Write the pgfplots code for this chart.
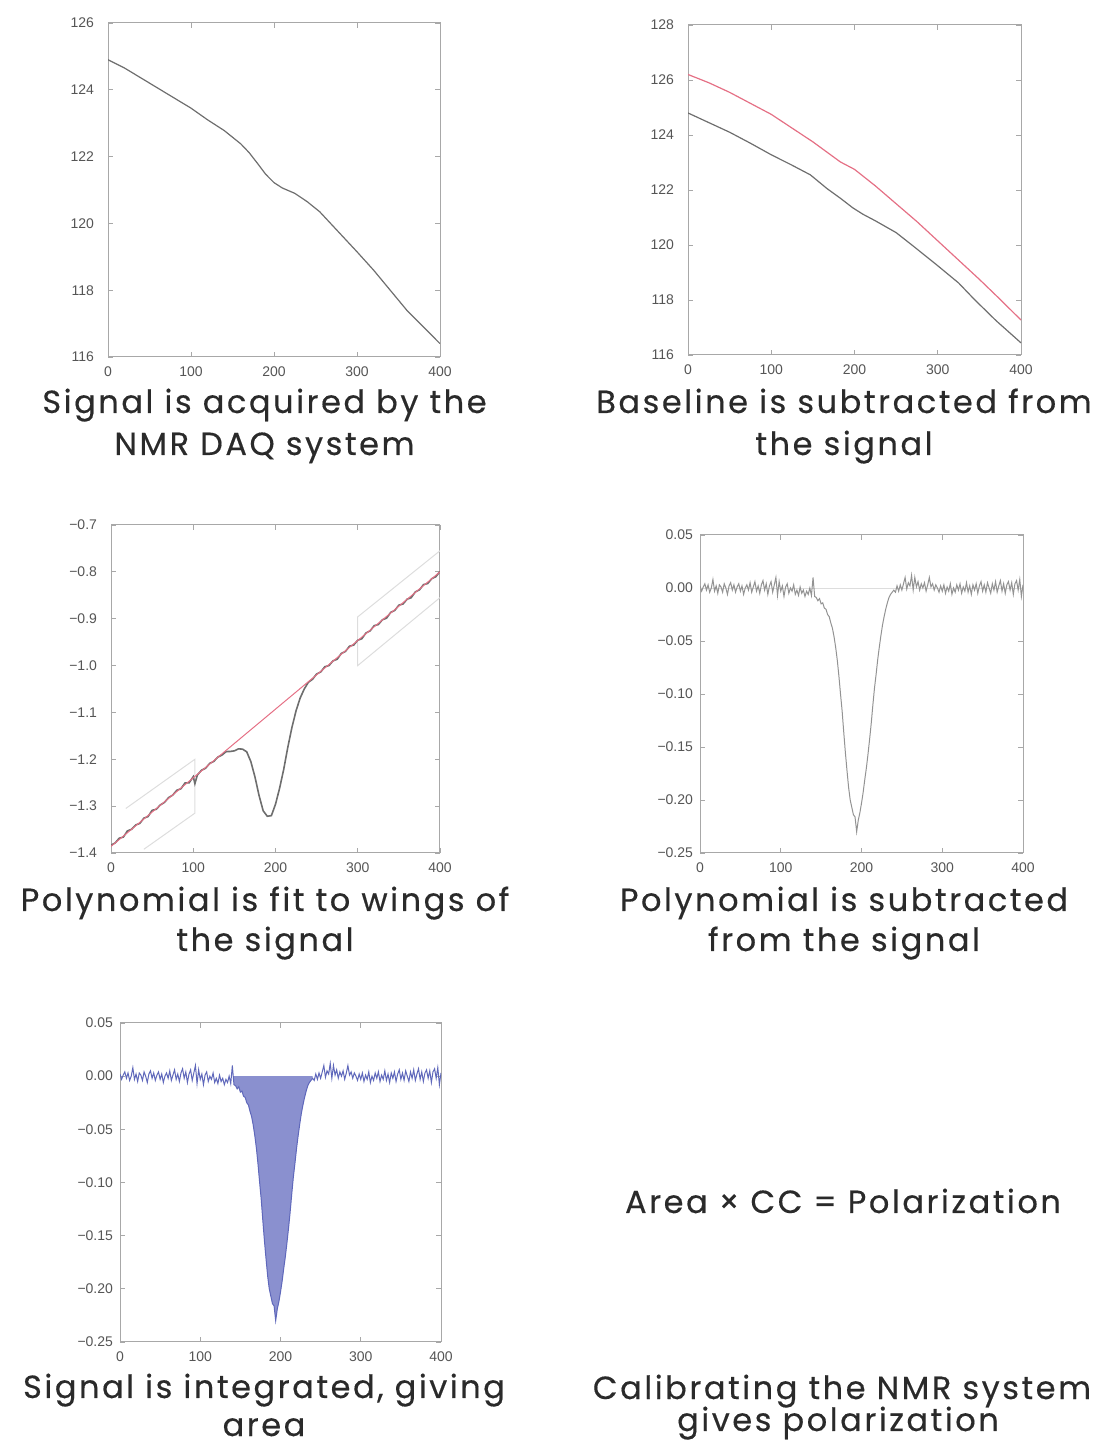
\documentclass[border=0pt]{standalone}
\usepackage{fontspec}
\setmainfont{Liberation Sans}
\newfontfamily\capfont{Poppins}[LetterSpace=8, FakeBold=0.4]
\usepackage{pgfplots}
\pgfplotsset{compat=1.18}
\usepackage{pgfplotstable}

\definecolor{axgray}{HTML}{A8A8A8}
\definecolor{lblgray}{HTML}{555555}
\definecolor{linegray}{HTML}{6E6E6E}
\definecolor{redline}{HTML}{E57085}
\definecolor{bandgray}{HTML}{DDDDDD}
\definecolor{p4gray}{HTML}{939393}
\definecolor{blueline}{HTML}{5F68BB}
\definecolor{fillblue}{HTML}{8A90CF}
\definecolor{captext}{HTML}{2A2A2A}

% Panel 1: raw signal
\pgfplotstableread{
x y
0 124.90
20 124.65
40 124.35
60 124.05
80 123.75
100 123.45
120 123.10
140 122.78
160 122.38
170 122.12
180 121.80
190 121.47
200 121.22
210 121.06
225 120.90
240 120.65
255 120.35
270 119.95
285 119.55
300 119.15
320 118.60
340 118.00
360 117.40
380 116.90
400 116.40
}\rawtab

% Panel 2: signal (black) and baseline (red)
\pgfplotstableread{
x y
0 124.80
25 124.45
50 124.10
75 123.70
100 123.28
125 122.90
147 122.55
167 122.05
183 121.70
198 121.35
210 121.12
225 120.88
250 120.45
271 119.95
299 119.27
325 118.62
344 118.02
370 117.25
400 116.44
}\sigtwo
\pgfplotstableread{
x y
0 126.20
25 125.90
50 125.55
75 125.15
100 124.75
125 124.25
150 123.75
183 123.02
200 122.75
225 122.15
250 121.50
275 120.85
300 120.15
325 119.45
350 118.75
375 118.02
400 117.27
}\basetwo

% Panel 3: baseline-subtracted signal
\pgfplotstableread{
x y
0 -1.3830
5 -1.3787
10 -1.3684
15 -1.3661
20 -1.3528
25 -1.3495
30 -1.3402
35 -1.3369
40 -1.3256
45 -1.3223
50 -1.3090
55 -1.3067
60 -1.2974
65 -1.2921
70 -1.2818
75 -1.2765
80 -1.2662
85 -1.2629
90 -1.2506
95 -1.2503
100 -1.2370
102 -1.2520
105 -1.2337
110 -1.2234
115 -1.2191
120 -1.2088
125 -1.2045
130 -1.1952
135 -1.1909
140 -1.1836
145 -1.1833
150 -1.1820
155 -1.1777
160 -1.1784
165 -1.1841
170 -1.2048
175 -1.2375
180 -1.2772
185 -1.3099
190 -1.3216
195 -1.3203
200 -1.2960
205 -1.2617
210 -1.2214
215 -1.1741
220 -1.1318
225 -1.0965
230 -1.0692
235 -1.0499
240 -1.0356
245 -1.0293
250 -1.0180
255 -1.0137
260 -1.0024
265 -1.0001
270 -0.9898
275 -0.9865
280 -0.9742
285 -0.9699
290 -0.9586
295 -0.9563
300 -0.9460
305 -0.9427
310 -0.9304
315 -0.9261
320 -0.9148
325 -0.9125
330 -0.9022
335 -0.8989
340 -0.8866
345 -0.8823
350 -0.8710
355 -0.8687
360 -0.8584
365 -0.8551
370 -0.8428
375 -0.8385
380 -0.8272
385 -0.8249
390 -0.8146
395 -0.8103
400 -0.7990
}\polytab

% Panels 4 and 5: polynomial-subtracted signal
\pgfplotstableread{
x y
0 0.002
2 -0.003
4 0.001
6 0.004
8 -0.002
10 0.003
12 -0.004
14 0.000
16 0.008
18 -0.003
20 0.002
22 -0.005
24 0.003
26 0.001
28 -0.004
30 0.004
32 0.000
34 -0.006
36 0.002
38 0.005
40 -0.002
42 0.003
44 -0.004
46 0.001
48 0.004
50 -0.003
52 0.002
54 -0.006
56 0.000
58 0.003
60 -0.002
62 0.005
64 -0.004
66 0.001
68 0.006
70 -0.003
72 0.002
74 -0.005
76 0.003
78 0.007
80 -0.002
82 0.004
84 -0.006
86 0.002
88 0.006
90 -0.004
92 0.003
94 0.010
96 -0.007
98 0.006
100 -0.003
102 0.002
104 -0.008
106 0.001
108 0.004
110 -0.005
112 0.000
114 -0.003
116 0.003
118 -0.006
120 -0.002
122 -0.007
124 0.001
126 -0.005
128 -0.002
130 -0.008
132 -0.003
134 -0.006
136 0.000
138 -0.007
140 0.010
142 -0.008
144 -0.009
146 -0.012
148 -0.010
150 -0.015
152 -0.014
154 -0.019
156 -0.020
158 -0.025
160 -0.027
162 -0.033
164 -0.038
166 -0.046
168 -0.056
170 -0.068
172 -0.083
174 -0.100
176 -0.116
178 -0.136
180 -0.155
182 -0.172
184 -0.188
186 -0.200
188 -0.207
190 -0.214
192 -0.216
194 -0.230
196 -0.219
198 -0.212
200 -0.203
202 -0.193
204 -0.181
206 -0.170
208 -0.157
210 -0.143
212 -0.128
214 -0.111
216 -0.095
218 -0.082
220 -0.068
222 -0.056
224 -0.045
226 -0.035
228 -0.027
230 -0.020
232 -0.014
234 -0.009
236 -0.006
238 -0.004
240 -0.002
242 -0.004
244 0.002
246 -0.003
248 0.003
250 -0.002
252 0.004
254 0.010
256 -0.001
258 0.005
260 0.002
262 0.012
264 -0.002
266 0.010
268 0.001
270 0.006
272 -0.002
274 0.004
276 0.000
278 0.005
280 -0.003
282 0.003
284 0.010
286 0.001
288 0.004
290 -0.002
292 0.003
294 0.000
296 -0.004
298 0.002
300 -0.003
302 0.003
304 -0.005
306 0.001
308 -0.003
310 0.004
312 -0.006
314 0.000
316 -0.004
318 0.003
320 -0.002
322 0.004
324 -0.005
326 0.001
328 -0.003
330 0.005
332 -0.004
334 0.002
336 -0.006
338 0.003
340 -0.002
342 0.004
344 -0.005
346 0.002
348 0.006
350 -0.003
352 0.003
354 -0.004
356 0.005
358 0.000
360 -0.005
362 0.004
364 -0.002
366 0.006
368 -0.004
370 0.002
372 0.007
374 -0.003
376 0.004
378 -0.005
380 0.003
382 0.006
384 -0.002
386 0.005
388 -0.006
390 0.004
392 0.007
394 -0.002
396 0.008
398 -0.008
400 0.003
}\subtab

\pgfplotsset{
  nmr/.style={
    scale only axis, anchor=south west,
    xmin=0, xmax=400,
    xtick={0,100,200,300,400},
    xticklabels={0,100,200,300,400},
    axis line style={draw=axgray, line width=0.5pt},
    every tick/.style={draw=axgray, line width=0.45pt},
    major tick length=2.5pt,
    tick align=inside,
    tick label style={font=\fontsize{7}{8}\selectfont, text=lblgray},
    xticklabel style={yshift=-1.5pt},
  },
  wide/.style={yticklabel style={xshift=-3.5pt}},
}

\newcommand{\capnode}[3]{\node[font={\capfont\fontsize{16}{21}\selectfont}, text=captext, anchor=base, inner sep=0pt] at (#1,#2) {#3};}

\begin{document}
\begin{tikzpicture}
\useasboundingbox (0,0) rectangle (547pt,722.5pt);

% Panel 1
\begin{axis}[nmr, wide, at={(54pt,544pt)}, width=166pt, height=167pt,
  ymin=116, ymax=126, ytick={116,118,...,126}, yticklabels={116,118,120,122,124,126}]
\addplot[linegray, line width=0.6pt] table {\rawtab};
\end{axis}

% Panel 2
\begin{axis}[nmr, wide, at={(344pt,545pt)}, width=166.5pt, height=165pt,
  ymin=116, ymax=128, ytick={116,118,...,128}, yticklabels={116,118,120,122,124,126,128}]
\addplot[redline, line width=0.6pt] table {\basetwo};
\addplot[linegray, line width=0.6pt] table {\sigtwo};
\end{axis}

% Panel 3
\begin{axis}[nmr, wide, at={(55.5pt,296pt)}, width=164.5pt, height=164pt,
  ymin=-1.4, ymax=-0.7, ytick={-1.4,-1.3,...,-0.7},
  yticklabels={−1.4,−1.3,−1.2,−1.1,−1.0,−0.9,−0.8,−0.7}]
\addplot[bandgray, line width=0.5pt] coordinates {(18,-1.305) (102,-1.200) (102,-1.315) (40,-1.392)};
\addplot[bandgray, line width=0.5pt] coordinates {(400,-0.755) (300,-0.896) (300,-1.000) (400,-0.855)};
\addplot[linegray, line width=0.8pt] table {\polytab};
\addplot[redline, line width=0.5pt] coordinates {(0,-1.386) (400,-0.800)};
\end{axis}

% Panel 4
\begin{axis}[nmr, at={(350pt,296pt)}, width=161.5pt, height=159pt,
  ymin=-0.25, ymax=0.05, ytick={-0.25,-0.2,...,0.05},
  yticklabels={−0.25,−0.20,−0.15,−0.10,−0.05,0.00,0.05}]
\addplot[bandgray, line width=0.4pt] coordinates {(0,0) (400,0)};
\addplot[p4gray, line width=0.5pt] table {\subtab};
\end{axis}

% Panel 5
\begin{axis}[nmr, at={(60pt,51.5pt)}, width=160.5pt, height=159.5pt,
  ymin=-0.25, ymax=0.05, ytick={-0.25,-0.2,...,0.05},
  yticklabels={−0.25,−0.20,−0.15,−0.10,−0.05,0.00,0.05}]
\addplot[fill=fillblue, draw=none, restrict x to domain=141:241] table {\subtab} \closedcycle;
\addplot[blueline, line width=0.5pt] table {\subtab};
\end{axis}

% Captions
\capnode{132.25pt}{516pt}{Signal is acquired by the}
\capnode{132.25pt}{495pt}{NMR DAQ system}
\capnode{422pt}{516pt}{Baseline is subtracted from}
\capnode{422pt}{495pt}{the signal}
\capnode{132.5pt}{267pt}{Polynomial is fit to wings of}
\capnode{132.5pt}{247pt}{the signal}
\capnode{422pt}{267pt}{Polynomial is subtracted}
\capnode{422pt}{247pt}{from the signal}
\capnode{132pt}{23.5pt}{Signal is integrated, giving}
\capnode{132pt}{4.5pt}{area}
\capnode{421.5pt}{116pt}{Area × CC = Polarization}
\capnode{421pt}{23pt}{Calibrating the NMR system}
\capnode{419pt}{7pt}{gives polarization}
\end{tikzpicture}
\end{document}
